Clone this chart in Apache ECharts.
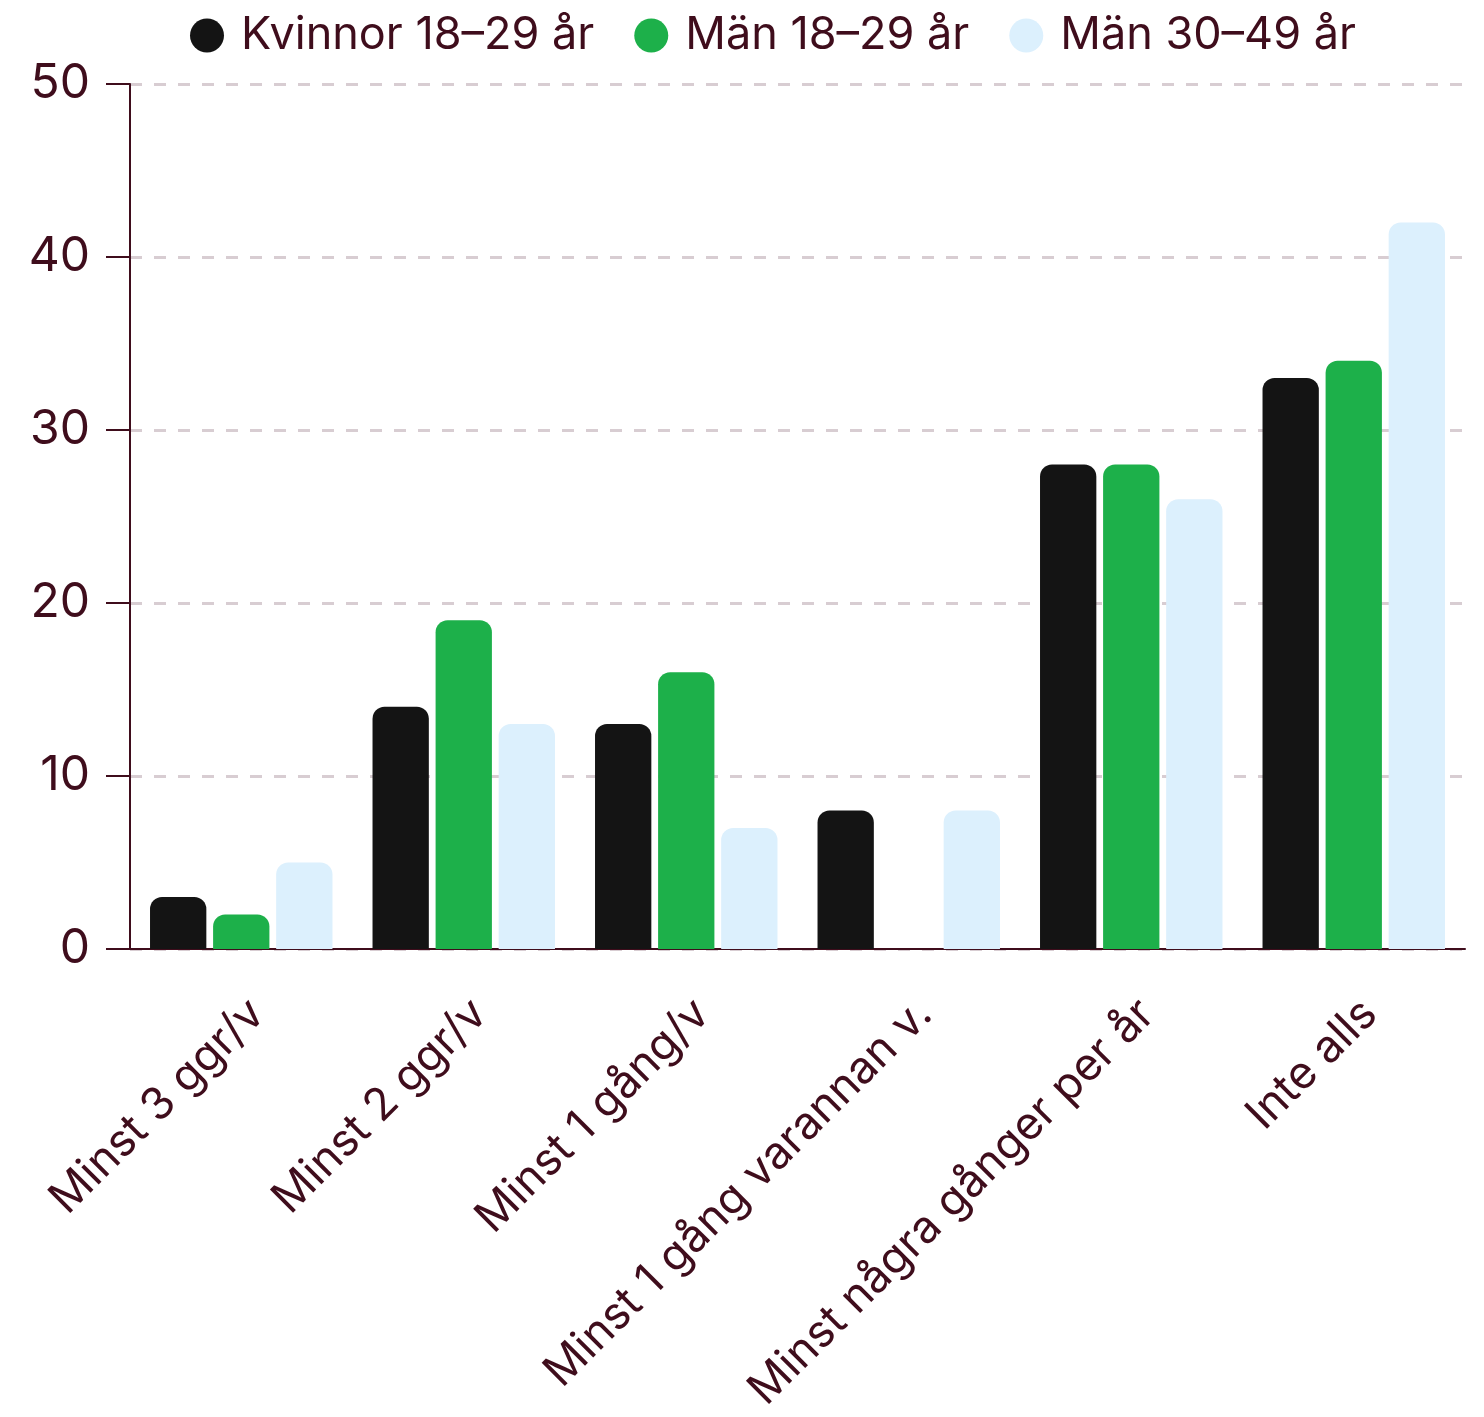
<!DOCTYPE html>
<html><head><meta charset="utf-8">
<script src="https://cdn.jsdelivr.net/npm/echarts@6/dist/echarts.min.js"></script>
<style>html,body{margin:0;padding:0;background:#fff}#c{width:1484px;height:1417px}</style>
</head><body><div id="c"></div>
<script>
const categories = ['Minst 3 ggr/v','Minst 2 ggr/v','Minst 1 gång/v','Minst 1 gång varannan v.','Minst några gånger per år','Inte alls'];
const seriesNames = ['Kvinnor 18–29 år','Män 18–29 år','Män 30–49 år'];
const kvinnor1829 = [3,14,13,8,28,33];
const man1829 = [2,19,16,0,28,34];
const man3049 = [5,13,7,8,26,42];
const colors = ['#141414','#1db04a','#dcf0fd'];
const textColor = '#3f0d1c';
const chart = echarts.init(document.getElementById('c'));
const mk = (name, data, color) => ({
  name, type:'bar', data, barGap:'12%', barCategoryGap:'18%',
  itemStyle:{color, borderRadius:[12,12,0,0]}
});
chart.setOption({
  animation:false,
  textStyle:{fontFamily:'Inter'},
  color: colors,
  legend:{top:8, left:185, icon:'circle', itemWidth:34, itemHeight:34, itemGap:40,
    textStyle:{fontSize:45, color:textColor, fontFamily:'Inter', padding:[0,0,0,12]}},
  grid:{left:130, right:19, top:84, bottom:468},
  xAxis:{type:'category', data:categories,
    axisLine:{lineStyle:{color:textColor, width:2}},
    axisTick:{show:false},
    axisLabel:{rotate:45, fontSize:45, color:textColor, margin:42, interval:0, verticalAlign:'top'}},
  yAxis:{type:'value', min:0, max:50, interval:10,
    axisLine:{show:true, lineStyle:{color:textColor, width:2}},
    axisTick:{show:true, length:24, lineStyle:{color:textColor, width:2}},
    axisLabel:{fontSize:48, color:textColor, margin:40},
    splitLine:{lineStyle:{color:'#d8cdd2', width:3, type:[12,12]}}},
  series:[mk(seriesNames[0],kvinnor1829,colors[0]), mk(seriesNames[1],man1829,colors[1]), mk(seriesNames[2],man3049,colors[2])]
});
</script></body></html>
